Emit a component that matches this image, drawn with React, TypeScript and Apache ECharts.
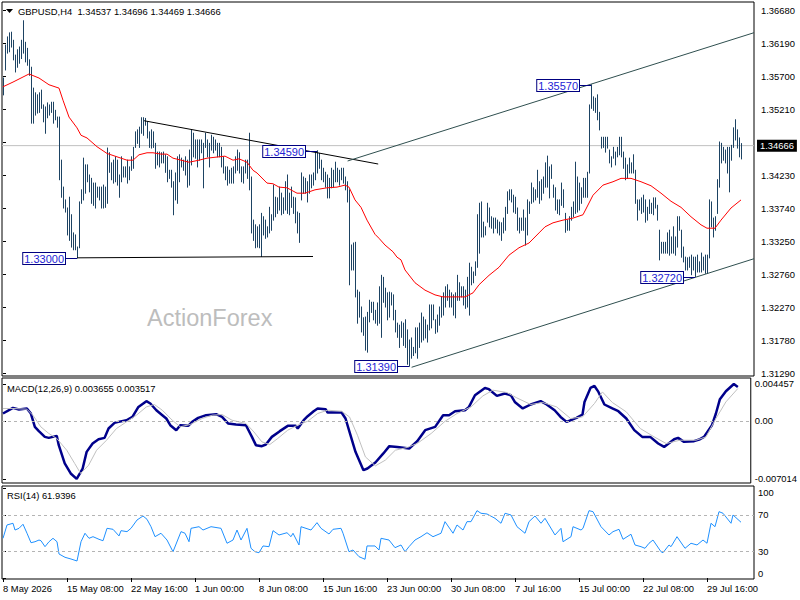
import React, { useEffect, useRef } from "react";
import * as echarts from "echarts";

const symbolTitle = "GBPUSD,H4  1.34537 1.34696 1.34469 1.34666";
const macdTitle = "MACD(12,26,9) 0.003655 0.003517";
const rsiTitle = "RSI(14) 61.9396";
const watermark = "ActionForex";
const lastPrice = 1.34666;

const barHigh = [
  1.3567, 1.3616, 1.3628, 1.3634, 1.3635, 1.3623, 1.3601, 1.3609, 1.3613, 1.3623,
  1.3652, 1.362, 1.3611, 1.3594, 1.3583, 1.3552, 1.3545, 1.3542, 1.3545, 1.3549,
  1.3527, 1.3524, 1.353, 1.3527, 1.3531, 1.3531, 1.3519, 1.3509, 1.3509, 1.3445,
  1.3405, 1.3386, 1.3374, 1.339, 1.3364, 1.3337, 1.3334, 1.3316, 1.3383, 1.3401,
  1.3448, 1.3438, 1.3438, 1.3423, 1.3418, 1.3411, 1.3411, 1.3405, 1.3405, 1.3405,
  1.3408, 1.3405, 1.3463, 1.3456, 1.3441, 1.3445, 1.345, 1.3445, 1.3423, 1.345,
  1.3435, 1.3435, 1.3445, 1.3435, 1.345, 1.3464, 1.3487, 1.349, 1.3494, 1.3508,
  1.3508, 1.3507, 1.3502, 1.3487, 1.349, 1.3487, 1.347, 1.3457, 1.3457, 1.3456,
  1.3457, 1.3453, 1.345, 1.343, 1.343, 1.3413, 1.3426, 1.345, 1.3453, 1.3448,
  1.3445, 1.345, 1.3445, 1.346, 1.349, 1.3485, 1.3475, 1.3475, 1.3475, 1.3475,
  1.347, 1.3485, 1.3475, 1.347, 1.3482, 1.3479, 1.3475, 1.347, 1.347, 1.3464,
  1.345, 1.3435, 1.3435, 1.343, 1.3433, 1.3435, 1.345, 1.346, 1.3456, 1.3435,
  1.3435, 1.3445, 1.3445, 1.3485, 1.342, 1.3356, 1.3349, 1.3346, 1.3349, 1.3366,
  1.3361, 1.3356, 1.3346, 1.3375, 1.3364, 1.3408, 1.339, 1.3389, 1.3405, 1.3396,
  1.3389, 1.3413, 1.3423, 1.3396, 1.3405, 1.339, 1.3389, 1.3368, 1.3366, 1.3426,
  1.342, 1.3418, 1.3413, 1.3423, 1.3423, 1.3426, 1.3457, 1.3459, 1.3455, 1.3445,
  1.3433, 1.3427, 1.3423, 1.3418, 1.3433, 1.343, 1.3442, 1.3433, 1.343, 1.3433,
  1.3433, 1.342, 1.3413, 1.3401, 1.3319, 1.3322, 1.3323, 1.3252, 1.3249, 1.3227,
  1.3211, 1.3212, 1.3219, 1.3237, 1.3234, 1.3234, 1.3222, 1.3233, 1.3257, 1.3274,
  1.3271, 1.3255, 1.3248, 1.3249, 1.3248, 1.3245, 1.3222, 1.3203, 1.32, 1.3205,
  1.3203, 1.3208, 1.3193, 1.3178, 1.3181, 1.3167, 1.3196, 1.3196, 1.3203, 1.3218,
  1.3212, 1.3208, 1.32, 1.323, 1.323, 1.323, 1.3208, 1.3215, 1.3227, 1.3242,
  1.3248, 1.3257, 1.326, 1.3252, 1.3248, 1.3245, 1.3248, 1.3274, 1.3263, 1.3257,
  1.3257, 1.3252, 1.3271, 1.3292, 1.3286, 1.3279, 1.3294, 1.3364, 1.3381, 1.3383,
  1.3353, 1.3346, 1.3381, 1.3374, 1.3361, 1.3359, 1.3359, 1.3356, 1.3353, 1.3352,
  1.3359, 1.3375, 1.3398, 1.3401, 1.3401, 1.3393, 1.339, 1.3374, 1.3359, 1.3359,
  1.3371, 1.3359, 1.3386, 1.3383, 1.3411, 1.3404, 1.3401, 1.343, 1.3413, 1.3416,
  1.342, 1.3441, 1.3451, 1.3435, 1.3438, 1.3408, 1.3404, 1.3386, 1.3386, 1.3411,
  1.3401, 1.3366, 1.3356, 1.3361, 1.3375, 1.3383, 1.3442, 1.342, 1.3411, 1.3404,
  1.3418, 1.3418, 1.3427, 1.3527, 1.3557, 1.3539, 1.3537, 1.3542, 1.3516, 1.3479,
  1.3479, 1.3479, 1.3479, 1.346, 1.345, 1.3464, 1.3457, 1.3464, 1.3479, 1.3479,
  1.3457, 1.3448, 1.3438, 1.3448, 1.3441, 1.3453, 1.343, 1.3386, 1.3386, 1.3389,
  1.3393, 1.3386, 1.3375, 1.3386, 1.3381, 1.3389, 1.3389, 1.3378, 1.3341, 1.3323,
  1.3323, 1.3323, 1.3337, 1.3341, 1.3331, 1.3346, 1.3331, 1.3361, 1.3361, 1.3341,
  1.3316, 1.3301, 1.33, 1.3301, 1.3304, 1.3301, 1.3301, 1.3304, 1.3294, 1.3307,
  1.3301, 1.3304, 1.3304, 1.3386, 1.3383, 1.3359, 1.3361, 1.3416, 1.3472, 1.347,
  1.3464, 1.346, 1.3464, 1.3464, 1.3467, 1.3493, 1.3505, 1.349, 1.3478, 1.34696,
];

const barLow = [
  1.3542, 1.3579, 1.3604, 1.3606, 1.3613, 1.3594, 1.3576, 1.3583, 1.3589, 1.3596,
  1.3604, 1.3591, 1.3586, 1.3571, 1.35, 1.35, 1.3512, 1.3515, 1.3516, 1.3522,
  1.3502, 1.3485, 1.3508, 1.3512, 1.3516, 1.35, 1.3505, 1.3494, 1.3416, 1.339,
  1.3374, 1.3368, 1.3334, 1.3326, 1.3316, 1.3312, 1.3312, 1.33, 1.3315, 1.3381,
  1.3386, 1.3396, 1.3413, 1.3398, 1.3381, 1.3378, 1.3374, 1.339, 1.3386, 1.3374,
  1.3374, 1.3375, 1.3381, 1.3427, 1.3416, 1.3411, 1.3413, 1.3408, 1.339, 1.3413,
  1.342, 1.342, 1.3411, 1.3416, 1.343, 1.3433, 1.3464, 1.347, 1.3464, 1.3485,
  1.3482, 1.3497, 1.3478, 1.3464, 1.3463, 1.3464, 1.3433, 1.3438, 1.3435, 1.3441,
  1.3441, 1.3427, 1.3413, 1.3418, 1.3405, 1.3364, 1.3386, 1.3381, 1.3413, 1.3435,
  1.343, 1.3423, 1.3405, 1.3408, 1.3438, 1.345, 1.3448, 1.3435, 1.3445, 1.3456,
  1.3404, 1.3464, 1.345, 1.3435, 1.346, 1.3456, 1.346, 1.345, 1.345, 1.3435,
  1.3426, 1.3416, 1.3408, 1.3411, 1.3411, 1.3411, 1.3426, 1.343, 1.3426, 1.3413,
  1.3411, 1.3426, 1.3418, 1.3401, 1.3337, 1.3326, 1.3315, 1.3316, 1.3315, 1.3302,
  1.3334, 1.3329, 1.3331, 1.3337, 1.3341, 1.3356, 1.3361, 1.3366, 1.3371, 1.3364,
  1.3366, 1.3371, 1.3366, 1.3364, 1.3375, 1.3366, 1.3352, 1.3337, 1.3323, 1.3386,
  1.3396, 1.3396, 1.3383, 1.3396, 1.3404, 1.3408, 1.3416, 1.3426, 1.3433, 1.3416,
  1.3413, 1.3405, 1.3389, 1.3389, 1.3404, 1.3405, 1.3413, 1.3413, 1.3408, 1.3416,
  1.3411, 1.3401, 1.3383, 1.326, 1.3282, 1.3282, 1.3242, 1.3203, 1.3212, 1.319,
  1.3185, 1.3163, 1.316, 1.3205, 1.3219, 1.3208, 1.3203, 1.32, 1.3203, 1.3182,
  1.3234, 1.3227, 1.3208, 1.3212, 1.323, 1.3208, 1.319, 1.3182, 1.3167, 1.3182,
  1.317, 1.3167, 1.3142, 1.3139, 1.3151, 1.3155, 1.3159, 1.3151, 1.3167, 1.3175,
  1.3178, 1.3181, 1.3175, 1.3193, 1.3196, 1.3208, 1.3188, 1.319, 1.32, 1.3212,
  1.3215, 1.3227, 1.3237, 1.3227, 1.3227, 1.3215, 1.3211, 1.3237, 1.3237, 1.3242,
  1.323, 1.3225, 1.3227, 1.3215, 1.326, 1.3263, 1.3274, 1.3286, 1.3307, 1.3331,
  1.3331, 1.3334, 1.3353, 1.3346, 1.3344, 1.3337, 1.3344, 1.3337, 1.3334, 1.3326,
  1.3337, 1.3341, 1.3366, 1.3386, 1.3383, 1.3368, 1.3366, 1.3341, 1.3337, 1.3341,
  1.3341, 1.3319, 1.3334, 1.3366, 1.3381, 1.3383, 1.3386, 1.339, 1.3381, 1.3386,
  1.3396, 1.3405, 1.3405, 1.3389, 1.3418, 1.339, 1.3371, 1.3366, 1.3364, 1.3378,
  1.3375, 1.3338, 1.3341, 1.3341, 1.3356, 1.3361, 1.3366, 1.3368, 1.3371, 1.3381,
  1.339, 1.339, 1.339, 1.3426, 1.3522, 1.3519, 1.3516, 1.3505, 1.349, 1.3463,
  1.3464, 1.3457, 1.3463, 1.3441, 1.3435, 1.3448, 1.3438, 1.345, 1.3453, 1.345,
  1.3433, 1.3416, 1.3418, 1.3426, 1.3426, 1.3426, 1.3381, 1.3356, 1.3371, 1.3366,
  1.3368, 1.3353, 1.3356, 1.3366, 1.3366, 1.3364, 1.3374, 1.3356, 1.3297, 1.3307,
  1.3307, 1.3307, 1.3307, 1.3304, 1.3307, 1.3307, 1.3304, 1.3316, 1.3341, 1.3301,
  1.3294, 1.3282, 1.3282, 1.3286, 1.3275, 1.3282, 1.3272, 1.3279, 1.3279, 1.3279,
  1.3282, 1.3277, 1.3277, 1.33, 1.3346, 1.3331, 1.3341, 1.3366, 1.3405, 1.3441,
  1.3445, 1.3441, 1.3426, 1.3398, 1.3445, 1.3464, 1.3475, 1.3463, 1.345, 1.34469,
];

// moving average: [bar index, price]
const maPoints = [
  [0, 1.3554], [5, 1.3561], [9, 1.3567], [13, 1.3573], [18, 1.3567], [23, 1.3557], [28, 1.3552],
  [30, 1.3534], [33, 1.3509], [37, 1.3493], [39, 1.3482], [42, 1.3478], [47, 1.3465], [52, 1.3455],
  [57, 1.345], [62, 1.3445], [65, 1.3445], [68, 1.3453], [72, 1.3456], [75, 1.3456], [79, 1.3454],
  [82, 1.3454], [85, 1.3448], [89, 1.3445], [93, 1.3442], [98, 1.3445], [102, 1.3448], [108, 1.345],
  [111, 1.3451], [115, 1.3445], [118, 1.3447], [122, 1.3442], [125, 1.343], [127, 1.3426], [132, 1.3411],
  [135, 1.341], [138, 1.3405], [142, 1.3404], [147, 1.3396], [151, 1.3396], [156, 1.3401], [162, 1.3404],
  [167, 1.3405], [171, 1.3408], [173, 1.3405], [176, 1.3386], [179, 1.3375], [182, 1.3356], [186, 1.3335],
  [188, 1.3329], [191, 1.3319], [195, 1.3309], [197, 1.3301], [199, 1.3297], [201, 1.3282], [206, 1.3263],
  [211, 1.3252], [216, 1.3245], [220, 1.3242], [226, 1.3242], [231, 1.3242], [235, 1.3248], [238, 1.326],
  [243, 1.3274], [248, 1.3286], [253, 1.3304], [258, 1.3315], [263, 1.3322], [268, 1.3337], [271, 1.3346],
  [275, 1.3352], [280, 1.3356], [285, 1.3359], [290, 1.3364], [295, 1.3393], [300, 1.3408], [305, 1.3413],
  [309, 1.3418], [314, 1.3418], [319, 1.3413], [324, 1.3407], [329, 1.3396], [334, 1.3384], [339, 1.3375],
  [344, 1.3361], [349, 1.3349], [352, 1.3344], [356, 1.3344], [359, 1.3356], [364, 1.3374], [369, 1.3386],
];

const macdMain = [
  [0, 0.00089], [5, 0.00157], [8, 0.00138], [12, 0.0015], [14, 0.00089], [16, -0.00072], [18, -0.00124],
  [21, -0.00193], [23, -0.00205], [27, -0.00181], [28, -0.00293], [31, -0.00514], [34, -0.00635],
  [37, -0.00701], [40, -0.00575], [42, -0.00374], [45, -0.00273], [48, -0.00221], [51, -0.00205],
  [53, -0.00092], [56, -0.00024], [58, -0.00012], [62, 0.00008], [65, 0.00048], [68, 0.00169],
  [72, 0.00238], [74, 0.0021], [77, 0.00129], [80, 0.00069], [82, 0.00029], [84, -0.00052],
  [87, -0.00112], [89, -0.00052], [93, -0.0006], [95, -0.00012], [98, 0.00036], [102, 0.00069],
  [107, 0.00081], [110, 0.00048], [113, -0.00031], [117, -0.00043], [122, -0.00052], [125, -0.00193],
  [127, -0.00293], [130, -0.00305], [132, -0.00285], [135, -0.00193], [139, -0.00124], [143, -0.0006],
  [147, -0.0006], [148, -0.00092], [151, 0.00008], [153, 0.00057], [156, 0.00117], [158, 0.0015],
  [162, 0.00141], [163, 0.00101], [167, 0.00101], [170, 0.00101], [172, 0.00029], [174, -0.00133],
  [177, -0.00374], [181, -0.00595], [183, -0.00575], [187, -0.00502], [191, -0.00393], [194, -0.00305],
  [198, -0.00314], [204, -0.00333], [208, -0.00245], [212, -0.00112], [217, -0.00072], [221, 0.00069],
  [224, 0.00069], [227, 0.00117], [232, 0.00129], [234, 0.00169], [237, 0.0031], [242, 0.00398],
  [244, 0.00383], [248, 0.00302], [252, 0.00331], [255, 0.0031], [257, 0.00229], [261, 0.0015],
  [265, 0.00198], [270, 0.00238], [273, 0.00198], [277, 0.00129], [280, 0.00048], [283, -0.00012],
  [288, 0.00036], [291, 0.00077], [292, 0.00229], [295, 0.00398], [297, 0.00422], [299, 0.0035],
  [302, 0.00198], [306, 0.0015], [309, 0.00117], [313, 0.00029], [317, -0.00112], [321, -0.00193],
  [325, -0.00193], [329, -0.00273], [332, -0.00314], [337, -0.00221], [339, -0.00205], [342, -0.00253],
  [347, -0.00245], [350, -0.00221], [352, -0.00193], [356, -0.00052], [358, 0.00089], [360, 0.00262],
  [363, 0.00358], [367, 0.004457], [369, 0.0041],
];

const macdSignal = [
  [0, 0.0015], [5, 0.0015], [12, 0.00141], [15, 0.00069], [19, -0.00072], [23, -0.00152], [27, -0.00212],
  [32, -0.00354], [36, -0.00514], [39, -0.00635], [43, -0.00535], [47, -0.00354], [52, -0.00233],
  [57, -0.00092], [62, -0.00012], [67, 0.00069], [72, 0.00169], [76, 0.00198], [80, 0.00129],
  [85, 0.00008], [89, -0.00072], [94, -0.00043], [100, 0.00029], [105, 0.00069], [110, 0.00077],
  [115, 0.00008], [122, -0.00031], [126, -0.00133], [130, -0.00253], [134, -0.00285], [138, -0.00212],
  [143, -0.00112], [148, -0.00052], [153, -0.00004], [158, 0.00089], [163, 0.00129], [170, 0.00117],
  [174, 0.00048], [178, -0.00173], [182, -0.00435], [187, -0.00543], [192, -0.00474], [197, -0.00354],
  [203, -0.00321], [208, -0.00273], [215, -0.00152], [222, -0.00004], [228, 0.00089], [235, 0.00169],
  [241, 0.00302], [246, 0.00371], [253, 0.00343], [258, 0.00278], [265, 0.00198], [271, 0.00222],
  [278, 0.00169], [285, 0.00029], [291, 0.00048], [297, 0.0021], [301, 0.0035], [306, 0.00222],
  [313, 0.00109], [320, -0.00092], [327, -0.00193], [333, -0.00273], [340, -0.00233], [348, -0.00233],
  [353, -0.00193], [358, 0.00029], [363, 0.00229], [369, 0.00391],
];

const rsiPoints = [
  [0, 44.1], [2, 58.9], [5, 60.8], [6, 53.3], [8, 55.2], [10, 59.7], [12, 49.7], [14, 39.2], [16, 40.3],
  [18, 42.2], [19, 41.4], [21, 34.8], [23, 40.3], [25, 44.1], [27, 40.3], [28, 26.7], [31, 23.0],
  [34, 21.1], [37, 18.9], [39, 40.3], [41, 49.7], [43, 44.1], [45, 45.9], [48, 43.0], [50, 41.4],
  [52, 55.2], [55, 54.1], [58, 46.7], [59, 52.6], [62, 51.5], [64, 55.2], [67, 64.4], [70, 68.9],
  [72, 65.2], [74, 57.0], [76, 45.9], [79, 49.7], [82, 42.2], [85, 29.2], [89, 51.5], [91, 49.7],
  [93, 40.3], [94, 55.2], [98, 57.0], [100, 53.3], [104, 57.0], [109, 55.2], [112, 38.6], [115, 42.2],
  [117, 53.3], [119, 42.2], [122, 55.2], [124, 33.0], [126, 29.2], [128, 28.1], [130, 35.6], [133, 34.8],
  [135, 52.6], [138, 47.8], [142, 50.3], [144, 45.9], [145, 49.7], [148, 36.7], [149, 57.0], [154, 53.3],
  [157, 61.5], [159, 55.2], [163, 48.9], [165, 54.1], [169, 55.2], [170, 49.7], [173, 29.2], [175, 31.1],
  [178, 23.7], [181, 20.8], [182, 35.6], [186, 35.6], [188, 31.1], [189, 44.1], [193, 42.2], [196, 33.7],
  [199, 36.7], [201, 29.2], [203, 34.8], [206, 42.2], [209, 45.9], [212, 50.3], [215, 45.9], [219, 49.7],
  [221, 62.6], [225, 49.7], [227, 58.9], [230, 53.3], [232, 62.6], [234, 62.6], [237, 74.8], [239, 71.9],
  [242, 71.1], [246, 66.3], [249, 60.8], [251, 71.9], [254, 70.0], [257, 57.0], [261, 49.7], [263, 62.6],
  [266, 68.9], [269, 60.8], [271, 66.3], [276, 47.8], [279, 55.2], [280, 40.3], [284, 45.9], [285, 57.0],
  [289, 53.3], [290, 55.2], [293, 74.8], [295, 73.7], [299, 57.0], [303, 47.8], [305, 51.5], [308, 54.1],
  [310, 43.0], [314, 48.6], [316, 36.7], [319, 34.8], [321, 33.0], [323, 38.6], [325, 42.2], [329, 29.2],
  [330, 28.1], [333, 36.7], [334, 34.8], [337, 45.9], [341, 33.0], [344, 38.6], [347, 36.7], [350, 42.2],
  [352, 38.6], [354, 60.8], [356, 57.0], [358, 73.7], [360, 71.9], [364, 60.8], [365, 70.0], [369, 61.94],
];

// price axis: tick marks at every level, labels where they are visible (1.34720 sits behind the bid box)
const priceTicks = [1.3129, 1.3178, 1.3227, 1.3276, 1.3325, 1.3374, 1.3423, 1.3472, 1.3521, 1.357, 1.3619, 1.3668];
const priceTickLabels = [1.3129, 1.3178, 1.3227, 1.3276, 1.3325, 1.3374, 1.3423, 1.3521, 1.357, 1.3619, 1.3668];
const macdTicks = [-0.007014, 0, 0.004457];
const rsiTicks = [0, 30, 70, 100];
const rsiLevels = [70, 30];
const timeTickBars = [0, 32, 64, 96, 128, 160, 192, 224, 256, 288, 320, 352];
const timeTickLabels = [
  "8 May 2026", "15 May 08:00", "22 May 16:00", "1 Jun 00:00", "8 Jun 08:00", "15 Jun 16:00",
  "23 Jun 00:00", "30 Jun 08:00", "7 Jul 16:00", "15 Jul 00:00", "22 Jul 08:00", "29 Jul 16:00",
];

const priceLabels = [
  [37, 1.33],
  [157, 1.3459],
  [294, 1.3557],
  [203, 1.3139],
  [346, 1.3272],
];

const trendLines = [
  { from: [70.5, 1.35036], to: [187.6, 1.34393], color: "#000000" },
  { from: [37, 1.33], to: [155, 1.3302], color: "#000000" },
  { from: [172.3, 1.34438], to: [375.5, 1.36343], color: "#2F4F4F" },
  { from: [204.3, 1.31375], to: [375.5, 1.32987], color: "#2F4F4F" },
];

const FONT = '"Liberation Sans", Arial, sans-serif';
const AXFS = 9.4;

export default function App() {
  const ref = useRef<HTMLDivElement>(null);

  useEffect(() => {
    document.body.style.margin = "0";
    if (!ref.current) return;
    const chart = echarts.init(ref.current, null, { renderer: "svg" });

    const X_MIN = -0.5;
    const X_MAX = 375.5;
    const grids = [
      { left: 2, top: 2, width: 752, height: 374 },
      { left: 2, top: 378, width: 752, height: 105 },
      { left: 2, top: 486, width: 752, height: 93 },
    ];

    const xAxes = grids.map((_, g) => ({
      type: "value",
      gridIndex: g,
      min: X_MIN,
      max: X_MAX,
      show: g === 2,
      splitLine: { show: false },
      axisLine: { show: false },
      axisTick: {
        show: g === 2,
        customValues: timeTickBars,
        length: 4,
        lineStyle: { color: "#000" },
      },
      axisLabel: {
        show: g === 2,
        customValues: timeTickBars,
        formatter: (v: number) => timeTickLabels[timeTickBars.indexOf(v)] ?? "",
        align: "left",
        margin: 5,
        showMinLabel: true,
        showMaxLabel: true,
        color: "#000",
        fontFamily: FONT,
        fontSize: AXFS,
      },
    }));

    const yAxes = [
      {
        type: "value",
        gridIndex: 0,
        position: "right",
        min: 1.312455,
        max: 1.367988,
        splitLine: { show: false },
        axisLine: { show: false },
        axisTick: { show: true, customValues: priceTicks, length: 3, lineStyle: { color: "#000" } },
        axisLabel: {
          customValues: priceTickLabels,
          formatter: (v: number) => v.toFixed(5),
          margin: 7,
          showMinLabel: true,
          showMaxLabel: true,
          color: "#000",
          fontFamily: FONT,
          fontSize: AXFS,
        },
      },
      {
        type: "value",
        gridIndex: 1,
        position: "right",
        min: -0.0075,
        max: 0.00518,
        splitLine: { show: false },
        axisLine: { show: false },
        axisTick: { show: true, customValues: macdTicks, length: 3, lineStyle: { color: "#000" } },
        axisLabel: {
          customValues: macdTicks,
          formatter: (v: number) => (v === 0 ? "0.00" : v.toFixed(6)),
          margin: 4,
          showMinLabel: true,
          showMaxLabel: true,
          color: "#000",
          fontFamily: FONT,
          fontSize: AXFS,
        },
      },
      {
        type: "value",
        gridIndex: 2,
        position: "right",
        min: -1.1,
        max: 102.2,
        splitLine: { show: false },
        axisLine: { show: false },
        axisTick: { show: true, customValues: rsiTicks, length: 3, lineStyle: { color: "#000" } },
        axisLabel: {
          customValues: rsiTicks,
          formatter: (v: number) => (v >= 99 ? "{t|100}" : v <= 1 ? "{b|0}" : String(Math.round(v))),
          rich: {
            t: { padding: [10, 0, 0, 0], fontFamily: FONT, fontSize: AXFS, color: "#000" },
            b: { padding: [0, 0, 10, 0], fontFamily: FONT, fontSize: AXFS, color: "#000" },
          },
          margin: 4,
          showMinLabel: true,
          showMaxLabel: true,
          color: "#000",
          fontFamily: FONT,
          fontSize: AXFS,
        },
      },
    ];

    const barData = barHigh.map((h, i) => [i, barLow[i], h]);

    const series: any[] = [
      {
        type: "line",
        name: "bid",
        xAxisIndex: 0,
        yAxisIndex: 0,
        data: [
          [X_MIN, lastPrice],
          [X_MAX, lastPrice],
        ],
        z: 1,
        showSymbol: false,
        silent: true,
        lineStyle: { color: "#C0C0C0", width: 1 },
        endLabel: {
          show: true,
          distance: 3,
          formatter: () => lastPrice.toFixed(5),
          backgroundColor: "#000",
          color: "#fff",
          padding: [2, 3, 1, 3],
          fontFamily: FONT,
          fontSize: AXFS,
        },
      },
      {
        type: "custom",
        name: "bars",
        xAxisIndex: 0,
        yAxisIndex: 0,
        z: 3,
        data: barData,
        renderItem: (_params: any, api: any) => {
          const lo = api.coord([api.value(0), api.value(1)]);
          const hi = api.coord([api.value(0), api.value(2)]);
          const x = Math.round(lo[0]) + 0.5;
          return {
            type: "line",
            shape: { x1: x, y1: lo[1] + 0.5, x2: x, y2: hi[1] - 0.5 },
            style: { stroke: "#1d4363", lineWidth: 1 },
          };
        },
      },
      {
        type: "line",
        name: "ma",
        xAxisIndex: 0,
        yAxisIndex: 0,
        z: 4,
        data: maPoints,
        showSymbol: false,
        smooth: false,
        lineStyle: { color: "#FF0000", width: 1 },
      },
      ...trendLines.map((t) => ({
        type: "line",
        xAxisIndex: 0,
        yAxisIndex: 0,
        z: 5,
        data: [t.from, t.to],
        showSymbol: false,
        silent: true,
        lineStyle: { color: t.color, width: 1 },
      })),
      {
        type: "custom",
        name: "priceLabels",
        xAxisIndex: 0,
        yAxisIndex: 0,
        z: 6,
        data: priceLabels,
        renderItem: (_params: any, api: any) => {
          const p = api.coord([api.value(0), api.value(1)]);
          const y = Math.round(p[1]) + 0.5;
          return {
            type: "group",
            children: [
              {
                type: "line",
                shape: { x1: p[0] - 12, y1: y, x2: p[0], y2: y },
                style: { stroke: "#000080", lineWidth: 1 },
              },
              {
                type: "text",
                x: p[0] - 12,
                y: y,
                style: {
                  text: api.value(1).toFixed(5),
                  fill: "#2424d6",
                  fontFamily: FONT,
                  fontSize: 11,
                  lineHeight: 11,
                  align: "right",
                  verticalAlign: "middle",
                  backgroundColor: "#ffffff",
                  borderColor: "#000080",
                  borderWidth: 1,
                  padding: [0, 1, 0, 1],
                },
              },
            ],
          };
        },
      },
      {
        type: "line",
        name: "signal",
        xAxisIndex: 1,
        yAxisIndex: 1,
        data: macdSignal,
        showSymbol: false,
        z: 3,
        lineStyle: { color: "#C0C0C0", width: 1 },
        markLine: {
          silent: true,
          symbol: "none",
          data: [{ yAxis: 0 }],
          label: { show: false },
          lineStyle: { color: "#B4B4B4", type: [3, 3], width: 1 },
        },
      },
      {
        type: "line",
        name: "macd",
        xAxisIndex: 1,
        yAxisIndex: 1,
        data: macdMain,
        showSymbol: false,
        z: 2,
        lineStyle: { color: "#00008B", width: 2.5 },
      },
      {
        type: "line",
        name: "rsi",
        xAxisIndex: 2,
        yAxisIndex: 2,
        data: rsiPoints,
        showSymbol: false,
        lineStyle: { color: "#1E90FF", width: 1 },
        markLine: {
          silent: true,
          symbol: "none",
          data: rsiLevels.map((v) => ({ yAxis: v })),
          label: { show: false },
          lineStyle: { color: "#B4B4B4", type: [3, 3], width: 1 },
        },
      },
    ];

    chart.setOption({
      animation: false,
      backgroundColor: "#ffffff",
      grid: grids.map((g) => ({ ...g, show: true, borderColor: "#000", borderWidth: 1, backgroundColor: "transparent" })),
      xAxis: xAxes,
      yAxis: yAxes,
      series,
      graphic: [
        {
          type: "polygon",
          shape: { points: [[6, 9], [13, 9], [9.5, 13]] },
          style: { fill: "#000" },
        },
        {
          type: "text",
          x: 18,
          y: 11,
          style: { text: symbolTitle, fill: "#000", fontFamily: FONT, fontSize: AXFS, verticalAlign: "middle" },
        },
        {
          type: "text",
          x: 7,
          y: 388.5,
          style: { text: macdTitle, fill: "#000", fontFamily: FONT, fontSize: AXFS, verticalAlign: "middle" },
        },
        {
          type: "text",
          x: 7,
          y: 495.5,
          style: { text: rsiTitle, fill: "#000", fontFamily: FONT, fontSize: AXFS, verticalAlign: "middle" },
        },
        {
          type: "text",
          x: 147,
          y: 318,
          style: {
            text: watermark,
            fill: "#BDBDBD",
            fontFamily: FONT,
            fontSize: 23.5,
            verticalAlign: "middle",
          },
        },
      ],
    });

    return () => {
      chart.dispose();
    };
  }, []);

  return <div ref={ref} style={{ width: 800, height: 600 }} />;
}
